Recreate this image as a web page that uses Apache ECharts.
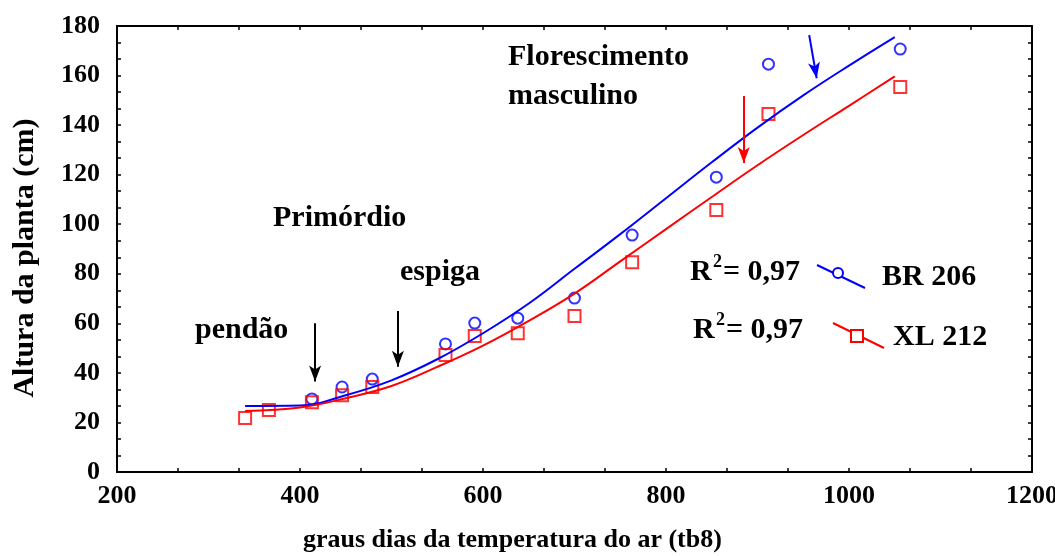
<!DOCTYPE html>
<html>
<head>
<meta charset="utf-8">
<script src="https://cdn.jsdelivr.net/npm/echarts@6/dist/echarts.min.js"></script>
<style>
  html, body { margin: 0; padding: 0; background: #fff; }
  #chart { width: 1055px; height: 556px; }
</style>
</head>
<body>
<div id="chart"></div>
<script>
// pontos observados
const degreeDays = [340, 366, 413, 446, 479, 559, 591, 638, 700, 763, 855, 912, 1056]
const heightBR206 = [null, null, 29.5, 34.3, 37.5, 51.7, 60.1, 62.1, 70.2, 95.6, 119, 164.6, 170.7]
const heightXL212 = [21.8, 25, 28.2, 31, 34.3, 47.2, 54.9, 56, 63, 84.7, 105.7, 144.5, 155.4]

// curvas ajustadas
const fitDegreeDays = [340, 400, 450, 500, 550, 600, 650, 700, 750, 800, 850, 900, 950, 1000, 1050]
const fitBR206 = [26.6, 26.8, 31, 37, 45.5, 56, 68, 82, 96, 110.5, 125, 139, 152, 164, 175.5]
const fitXL212 = [24.6, 26, 29.8, 34.7, 42.4, 51, 61, 72, 85, 98, 111, 123.8, 136, 147.8, 159.7]

// setas (inicio, ponta) em graus dias / cm
const arrowPendao = [[416.5, 60], [416.5, 36.5]]
const arrowEspiga = [[507, 65], [507, 42.5]]
const arrowFlorXL = [[885, 151.7], [885, 124.7]]
const arrowFlorBR = [[956.5, 176.3], [964.7, 158.9]]

const FONT = "'Liberation Serif', 'Times New Roman', serif"
const BLUE = '#0000ff'
const RED = '#ff0000'

function pairs(xs, ys) {
  return xs.map((x, i) => [x, ys[i]]).filter(p => p[1] != null)
}

function arrowLine(a, color) {
  return [
    { coord: a[0], lineStyle: { color: color, width: 2, type: 'solid' } },
    { coord: a[1] }
  ]
}

const chart = echarts.init(document.getElementById('chart'))

const axisCommon = {
  type: 'value',
  axisLine: { show: true, onZero: false, lineStyle: { color: '#000', width: 2 } },
  axisTick: { show: true, inside: true, length: 4, lineStyle: { color: '#000', width: 1.5 } },
  minorTick: { show: true, splitNumber: 3, length: 4, lineStyle: { color: '#000', width: 1.5 } },
  splitLine: { show: false }
}

const labelStyle = {
  color: '#000', fontFamily: FONT, fontWeight: 'bold', fontSize: 26,
  formatter: v => String(v)
}
const textStyle = { fill: '#000', fontFamily: FONT, fontWeight: 'bold', fontSize: 30, verticalAlign: 'middle' }

// R^2 = 0,97 montado em tres pedacos (R, expoente, resto)
function rSquared(x, y) {
  return [
    { type: 'text', x: x, y: y, style: Object.assign({}, textStyle, { text: 'R' }) },
    { type: 'text', x: x + 23, y: y - 10, style: Object.assign({}, textStyle, { text: '2', fontSize: 18 }) },
    { type: 'text', x: x + 33, y: y, style: Object.assign({}, textStyle, { text: '= 0,97' }) }
  ]
}

chart.setOption({
  animation: false,
  grid: { left: 117, right: 23, top: 26, bottom: 84, outerBoundsMode: 'none' },
  xAxis: [
    Object.assign({}, axisCommon, {
      min: 200, max: 1200, interval: 200, position: 'bottom',
      axisLabel: Object.assign({ margin: 11 }, labelStyle)
    }),
    Object.assign({}, axisCommon, {
      min: 200, max: 1200, interval: 200, position: 'top',
      axisLabel: { show: false }
    })
  ],
  yAxis: [
    Object.assign({}, axisCommon, {
      min: 0, max: 180, interval: 20, position: 'left',
      axisLabel: Object.assign({ margin: 17 }, labelStyle)
    }),
    Object.assign({}, axisCommon, {
      min: 0, max: 180, interval: 20, position: 'right',
      axisLabel: { show: false }
    })
  ],
  series: [
    {
      name: 'BR 206 ajuste',
      type: 'line',
      data: pairs(fitDegreeDays, fitBR206),
      smooth: 0.4,
      showSymbol: false,
      lineStyle: { color: BLUE, width: 2 },
      markLine: {
        silent: true,
        symbol: ['none', 'arrow'],
        symbolSize: [9, 16],
        label: { show: false },
        data: [arrowLine(arrowFlorBR, BLUE), arrowLine(arrowPendao, '#000'), arrowLine(arrowEspiga, '#000')]
      }
    },
    {
      name: 'XL 212 ajuste',
      type: 'line',
      data: pairs(fitDegreeDays, fitXL212),
      smooth: 0.4,
      showSymbol: false,
      lineStyle: { color: RED, width: 2 },
      markLine: {
        silent: true,
        symbol: ['none', 'arrow'],
        symbolSize: [9, 16],
        label: { show: false },
        data: [arrowLine(arrowFlorXL, RED)]
      }
    },
    {
      name: 'BR 206',
      type: 'scatter',
      data: pairs(degreeDays, heightBR206),
      symbol: 'circle',
      symbolSize: 11,
      itemStyle: { color: 'rgba(0,0,0,0)', borderColor: BLUE, borderWidth: 2 }
    },
    {
      name: 'XL 212',
      type: 'scatter',
      data: pairs(degreeDays, heightXL212),
      symbol: 'rect',
      symbolSize: 12,
      itemStyle: { color: 'rgba(0,0,0,0)', borderColor: RED, borderWidth: 2 }
    }
  ],
  graphic: [
    { type: 'text', x: 25, y: 258, rotation: Math.PI / 2,
      style: Object.assign({}, textStyle, { text: 'Altura da planta (cm)', fontSize: 30, align: 'center' }) },
    { type: 'text', x: 303, y: 540,
      style: Object.assign({}, textStyle, { text: 'graus dias da temperatura do ar (tb8)', fontSize: 26 }) },
    { type: 'text', x: 508, y: 57, style: Object.assign({}, textStyle, { text: 'Florescimento' }) },
    { type: 'text', x: 508, y: 96, style: Object.assign({}, textStyle, { text: 'masculino' }) },
    { type: 'text', x: 273, y: 218, style: Object.assign({}, textStyle, { text: 'Primórdio' }) },
    { type: 'text', x: 400, y: 272, style: Object.assign({}, textStyle, { text: 'espiga' }) },
    { type: 'text', x: 195, y: 330, style: Object.assign({}, textStyle, { text: 'pendão' }) },
    ...rSquared(690, 272),
    ...rSquared(693, 330),
    // legenda
    { type: 'line', shape: { x1: 817, y1: 265, x2: 865, y2: 288 }, style: { stroke: BLUE, lineWidth: 2 } },
    { type: 'circle', shape: { cx: 838, cy: 273, r: 5 }, style: { fill: '#fff', stroke: BLUE, lineWidth: 2 } },
    { type: 'text', x: 882, y: 277, style: Object.assign({}, textStyle, { text: 'BR 206' }) },
    { type: 'line', shape: { x1: 833, y1: 323, x2: 884, y2: 348 }, style: { stroke: RED, lineWidth: 2 } },
    { type: 'rect', shape: { x: 851, y: 330, width: 12, height: 12 }, style: { fill: '#fff', stroke: RED, lineWidth: 2 } },
    { type: 'text', x: 893, y: 337, style: Object.assign({}, textStyle, { text: 'XL 212' }) }
  ]
})
</script>
</body>
</html>
